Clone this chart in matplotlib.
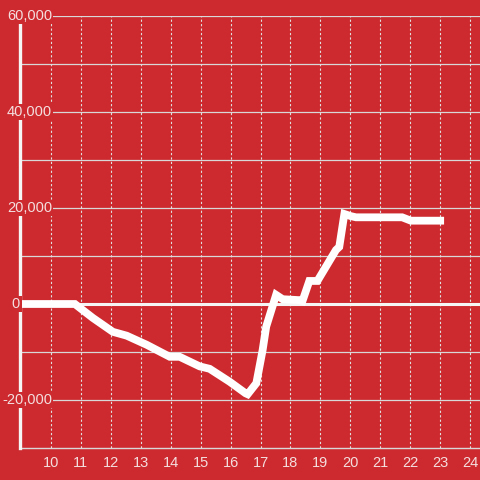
import matplotlib
matplotlib.use("Agg")
import matplotlib.pyplot as plt

# hours vs running balance
hours = [9, 10.8, 11.4, 12.07, 12.53, 13.2, 13.63, 13.97, 14.3, 14.97, 15.3, 15.97,
         16.5, 16.57, 16.86, 17.07, 17.19, 17.52, 17.74, 18.3, 18.4, 18.63, 18.9,
         19.52, 19.63, 19.8, 20.02, 20.19, 21.73, 22.02, 23.13]
balance = [0, 0, -2900, -5800, -6600, -8500, -9900, -11000, -11000, -13000, -13500, -16200,
           -18600, -18800, -16500, -9600, -4700, 1900, 1000, 800, 600, 4800, 4800,
           11250, 11900, 18750, 18300, 18060, 18060, 17360, 17360]

xticks = list(range(10, 25))
ylabels = [60000, 40000, 20000, 0, -20000]

bg = "#CD2A2F"
txt = "#F4DEDE"
plt.rcParams['font.family'] = ['Liberation Sans', 'DejaVu Sans']

fig = plt.figure(figsize=(4.8, 4.8), dpi=100)
fig.patch.set_facecolor(bg)
ax = fig.add_axes([20/480, 32/480, 460/480, 432/480])
ax.set_facecolor(bg)
ax.set_xlim(8.967, 24.33)
ax.set_ylim(-30000, 60000)

for v in range(-20000, 60001, 10000):
    if v == 0:
        ax.axhline(0, color="#F5F5F5", lw=2.2, zorder=2)
    else:
        ax.axhline(v, color="#D8D8D8", lw=0.9, zorder=1)
for t in xticks:
    ax.axvline(t, color="#E0E0E0", lw=0.8, ls=(0, (2, 2)), zorder=1)

ax.plot(hours, balance, color="white", lw=5.6, solid_capstyle="butt",
        solid_joinstyle="miter", zorder=3)

for s in ["top", "right"]:
    ax.spines[s].set_visible(False)
ax.spines["left"].set_color("#F5F5F5")
ax.spines["left"].set_linewidth(2.4)
ax.spines["left"].set_zorder(4)
ax.spines["bottom"].set_color("#D8D8D8")
ax.spines["bottom"].set_linewidth(1)

ax.set_yticks([])
ax.set_xticks(xticks)
ax.set_xticklabels([str(t) for t in xticks], color=txt, fontsize=10.5)
ax.tick_params(axis="x", length=0, pad=6)

for v in ylabels:
    lab = f"{v:,}"
    if v == 0:
        xpos, ha = -4/460, "center"
    else:
        xpos, ha = 32/460, "right"
    ax.text(xpos, v, lab, transform=ax.get_yaxis_transform(), ha=ha, va="center",
            color=txt, fontsize=10.5, zorder=5,
            bbox=dict(facecolor=bg, edgecolor="none", pad=1))

fig.savefig("out.png", dpi=100, facecolor=bg)
